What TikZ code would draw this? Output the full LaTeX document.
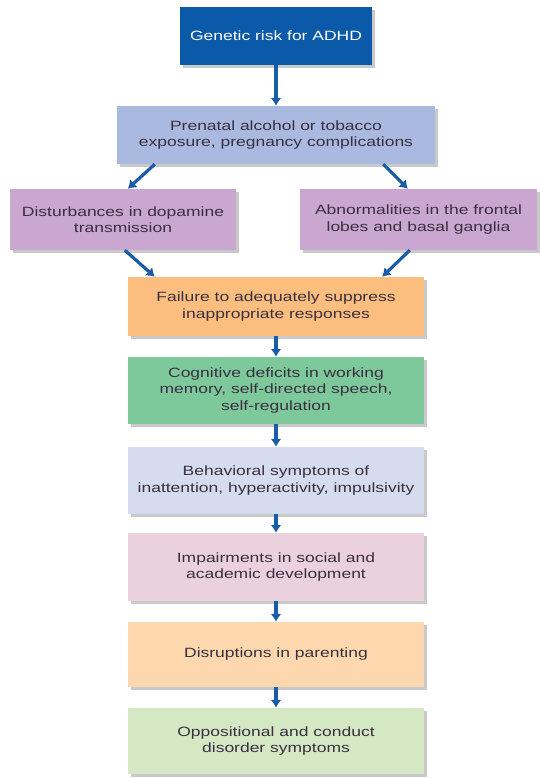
\documentclass[tikz,border=0pt]{standalone}
\usepackage{fontspec}
\setmainfont[FakeStretch=1.3]{Liberation Sans}
\usetikzlibrary{arrows.meta,shadows}
\definecolor{geneblue}{HTML}{0B5AAA}
\definecolor{prenatalblue}{HTML}{A9B9E0}
\definecolor{brainpurple}{HTML}{C9A7D0}
\definecolor{failorange}{HTML}{FBBE7E}
\definecolor{cogngreen}{HTML}{7EC99B}
\definecolor{behavblue}{HTML}{D5DCF0}
\definecolor{impairpink}{HTML}{EBD0DE}
\definecolor{parentpeach}{HTML}{FDD8AE}
\definecolor{oppgreen}{HTML}{D5E8C4}
\definecolor{flowblue}{HTML}{1A5DA6}
\definecolor{boxtext}{HTML}{3A3040}
\tikzset{
  stage/.style={draw=none,align=center,inner sep=0pt,text=boxtext,
    font=\fontsize{13.5}{16.5}\selectfont,
    drop shadow={shadow xshift=2.5bp,shadow yshift=-3.5bp,opacity=.3,fill=black!70}},
  flow/.style={draw=flowblue,line width=3.2bp,->}
}
\begin{document}
\begin{tikzpicture}[>={Latex[length=8bp,width=11bp]},line join=bevel]
\useasboundingbox (0bp,0bp) rectangle (540bp,778bp);
%%
\node (genetic) at (276bp,742bp) [stage,fill=geneblue,text=white,minimum width=192bp,minimum height=58bp] {Genetic risk for ADHD};
  \node (prenatal) at (276bp,643bp) [stage,fill=prenatalblue,minimum width=318bp,minimum height=58bp] {Prenatal alcohol or tobacco\\exposure, pregnancy complications};
  \node (dopamine) at (123bp,558.5bp) [stage,fill=brainpurple,minimum width=226bp,minimum height=61bp] {Disturbances in dopamine\\transmission};
  \node (frontal) at (418.5bp,558.5bp) [stage,fill=brainpurple,minimum width=237bp,minimum height=61bp] {Abnormalities in the frontal\\lobes and basal ganglia};
  \node (suppress) at (276bp,471.5bp) [stage,fill=failorange,minimum width=296bp,minimum height=59bp] {Failure to adequately suppress\\inappropriate responses};
  \node (cognitive) at (276bp,387.5bp) [stage,fill=cogngreen,minimum width=296bp,minimum height=67bp] {Cognitive deficits in working\\memory, self-directed speech,\\self-regulation};
  \node (behavior) at (276bp,297.5bp) [stage,fill=behavblue,minimum width=296bp,minimum height=67bp] {Behavioral symptoms of\\inattention, hyperactivity, impulsivity};
  \node (impair) at (276bp,211bp) [stage,fill=impairpink,minimum width=296bp,minimum height=68bp] {Impairments in social and\\academic development};
  \node (parenting) at (276bp,123.5bp) [stage,fill=parentpeach,minimum width=296bp,minimum height=65bp] {Disruptions in parenting};
  \node (conduct) at (276bp,37bp) [stage,fill=oppgreen,minimum width=296bp,minimum height=66bp] {Oppositional and conduct\\disorder symptoms};
  \draw [flow] (genetic) -- (prenatal);
  \draw [flow] ([xshift=38bp]prenatal.south west) -- ([xshift=118bp]dopamine.north west);
  \draw [flow] ([xshift=-52bp]prenatal.south east) -- ([xshift=108bp]frontal.north west);
  \draw [flow] ([xshift=115bp]dopamine.south west) -- ([xshift=27bp]suppress.north west);
  \draw [flow] ([xshift=110bp]frontal.south west) -- ([xshift=-42bp]suppress.north east);
  \draw [flow] (suppress) -- (cognitive);
  \draw [flow] (cognitive) -- (behavior);
  \draw [flow] (behavior) -- (impair);
  \draw [flow] (impair) -- (parenting);
  \draw [flow] (parenting) -- (conduct);
%
\end{tikzpicture}
\end{document}
